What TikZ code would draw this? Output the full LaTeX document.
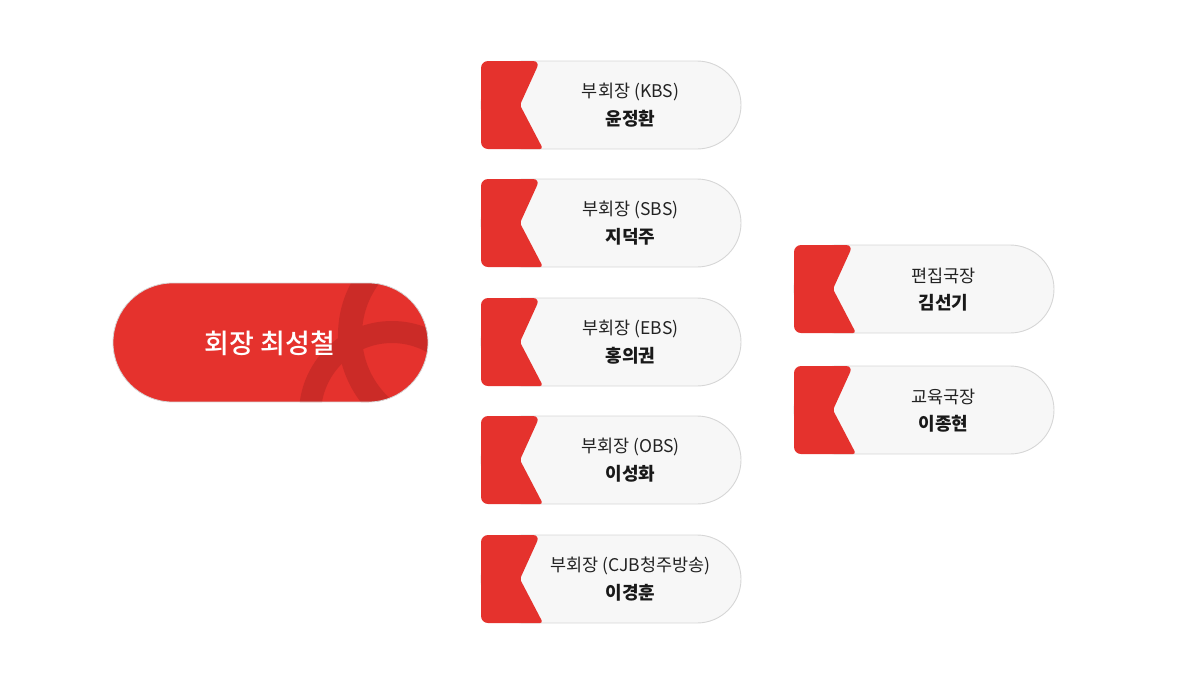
\documentclass[tikz,border=0pt]{standalone}
\usepackage{fontspec}
\setmainfont{Noto Sans CJK KR}
\newfontfamily\medfont{Noto Sans CJK KR Medium}
\definecolor{mainred}{HTML}{E5322D}
\definecolor{darkred}{HTML}{CB2B27}
\definecolor{boxgray}{HTML}{F7F7F7}
\definecolor{boxline}{HTML}{D6D6D6}
\definecolor{txt}{HTML}{222222}
\tikzset{
  pillbox/.style={fill=boxgray,draw=boxline,line width=0.9pt},
  flag/.style={fill=mainred,draw=none,rounded corners=3pt},
  roletext/.style={font=\fontsize{17.5}{19}\selectfont,text=txt,inner sep=0pt},
  nametext/.style={font=\fontsize{18}{20}\selectfont\bfseries,text=black!90,inner sep=0pt},
  ring/.style={draw=darkred,line width=22pt}
}
\newcommand{\orgbox}[6]{% name, left x, center y, width, role, person
  \begingroup
  \pgfmathsetmacro{\xl}{#2}\pgfmathsetmacro{\yc}{#3}\pgfmathsetmacro{\xr}{#2+#4}
  \pgfmathsetmacro{\yt}{#3-44}\pgfmathsetmacro{\yb}{#3+44}
  \pgfmathsetmacro{\xa}{#2+59}\pgfmathsetmacro{\xn}{#2+39}\pgfmathsetmacro{\xc}{#2+62}
  \pgfmathsetmacro{\xm}{(#2+39+#2+#4)/2}
  \draw[pillbox,rounded corners=44pt] (\xl,\yt) rectangle (\xr,\yb);
  \fill[flag] (\xl,\yt) [rounded corners=7pt] -- (\xa,\yt) [rounded corners=2pt] -- (\xn,\yc) [rounded corners=3pt] -- (\xc,\yb) [rounded corners=7pt] -- (\xl,\yb) -- cycle;
  \node[roletext] (#1r) at (\xm,\yc-13) {#5};
  \node[nametext] (#1n) at (\xm,\yc+14) {#6};
  \endgroup
}
\begin{document}
\begin{tikzpicture}[x=1pt,y=-1pt]
\useasboundingbox (0,0) rectangle (1200,686);
% main pill
\begin{scope}
  \clip[rounded corners=59.5pt] (113,283) rectangle (428,402);
  \fill[mainred] (113,283) rectangle (428,402);
  \draw[ring] (392,414) circle (82);
  \draw[ring,line width=24pt] (448,335) circle (98);
\end{scope}
\draw[draw=boxline,line width=0.8pt,rounded corners=59.5pt] (113,283) rectangle (428,402);
\node[font=\fontsize{27}{29}\selectfont\medfont,text=white,inner sep=0pt] (chair) at (270,343) {회장 최성철};
% vice presidents
\orgbox{vpa}{481}{105}{260}{부회장 (KBS)}{윤정환}
\orgbox{vpb}{481}{223}{260}{부회장 (SBS)}{지덕주}
\orgbox{vpc}{481}{342}{260}{부회장 (EBS)}{홍의권}
\orgbox{vpd}{481}{460}{260}{부회장 (OBS)}{이성화}
\orgbox{vpe}{481}{579}{260}{부회장 (CJB청주방송)}{이경훈}
% directors
\orgbox{dra}{794}{289}{260}{편집국장}{김선기}
\orgbox{drb}{794}{410}{260}{교육국장}{이종현}
\end{tikzpicture}
\end{document}
